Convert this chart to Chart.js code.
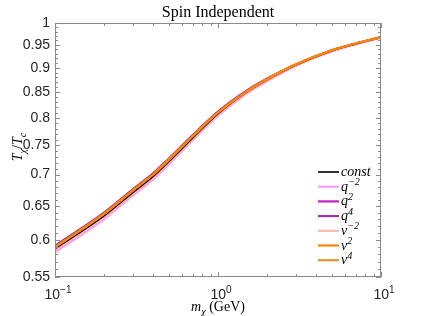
<!DOCTYPE html>
<html>
<head>
<meta charset="utf-8">
<script src="https://cdn.jsdelivr.net/npm/chart.js@4.4.1/dist/chart.umd.min.js"></script>
<style>
  html, body { margin: 0; padding: 0; background: #fff; }
  #wrap { width: 421px; height: 316px; }
</style>
</head>
<body>
<div id="wrap"><canvas id="c" width="421" height="316"></canvas></div>
<script>
// masses (GeV)
const mass = [0.1, 0.2, 0.3, 0.4, 0.5, 0.7, 1, 1.5, 2, 3, 5, 7, 10];

// T_chi / T_c for each velocity/momentum dependence
const tConst = [0.588, 0.635, 0.671, 0.697, 0.722, 0.763, 0.808, 0.850, 0.875, 0.906, 0.937, 0.952, 0.967];
const tQm2   = [0.583, 0.630, 0.666, 0.692, 0.717, 0.759, 0.804, 0.847, 0.872, 0.904, 0.935, 0.951, 0.966];
const tQ2    = [0.591, 0.639, 0.675, 0.701, 0.726, 0.767, 0.811, 0.852, 0.877, 0.907, 0.938, 0.953, 0.967];
const tQ4    = [0.592, 0.640, 0.676, 0.702, 0.727, 0.768, 0.812, 0.853, 0.877, 0.907, 0.938, 0.953, 0.967];
const tVm2   = [0.586, 0.633, 0.669, 0.695, 0.720, 0.761, 0.807, 0.849, 0.874, 0.905, 0.936, 0.952, 0.967];
const tV2    = [0.590, 0.638, 0.674, 0.700, 0.725, 0.766, 0.810, 0.851, 0.876, 0.907, 0.938, 0.953, 0.967];
const tV4    = [0.590, 0.638, 0.674, 0.700, 0.725, 0.766, 0.810, 0.851, 0.876, 0.907, 0.938, 0.953, 0.967];

// tick values / labels
const yTicks = [0.55, 0.6, 0.65, 0.7, 0.75, 0.8, 0.85, 0.9, 0.95, 1];
const yTickLabels = ["0.55", "0.6", "0.65", "0.7", "0.75", "0.8", "0.85", "0.9", "0.95", "1"];
const xTicks = [0.1, 1, 10];
const xTickExp = ["-1", "0", "1"];

const SERIF = '"Liberation Serif", "DejaVu Serif", serif';
const SANS = '"Liberation Sans", Arial, sans-serif';
const AXIS = "#8a8a8a";
const TEXT = "#262626";

// legend entries: base text + superscript
const series = [
  { base: "const", sup: "",   data: tConst, color: "#000000", width: 1.6, order: 2 },
  { base: "q",     sup: "−2", data: tQm2,   color: "#ff9cf5", width: 2.2, order: 6 },
  { base: "q",     sup: "2",  data: tQ2,    color: "#c81fc0", width: 2.2, order: 4 },
  { base: "q",     sup: "4",  data: tQ4,    color: "#9a35a8", width: 2.2, order: 3 },
  { base: "v",     sup: "−2", data: tVm2,   color: "#ffb9a6", width: 2.2, order: 5 },
  { base: "v",     sup: "2",  data: tV2,    color: "#ff8400", width: 2.2, order: 0 },
  { base: "v",     sup: "4",  data: tV4,    color: "#e0962a", width: 2.2, order: 1 },
];

// text pieces with sub/superscripts
function setFont(ctx, p, size) {
  const s = p.sub || p.sup ? size * 0.72 : size;
  ctx.font = (p.italic ? "italic " : "") + s + "px " + p.family;
}
function drawRich(ctx, parts, x, y, size, align) {
  let w = 0;
  for (const p of parts) { setFont(ctx, p, size); w += ctx.measureText(p.t).width; }
  let cx = align === "center" ? x - w / 2 : align === "right" ? x - w : x;
  ctx.textBaseline = "alphabetic";
  ctx.textAlign = "left";
  for (const p of parts) {
    setFont(ctx, p, size);
    const dy = p.sub ? size * 0.25 : p.sup ? -size * 0.4 : 0;
    ctx.fillText(p.t, cx, y + dy);
    cx += ctx.measureText(p.t).width;
  }
}

const decor = {
  id: "decor",
  afterDraw(chart) {
    const ctx = chart.ctx;
    const ca = chart.chartArea;
    const xs = chart.scales.x, ys = chart.scales.y;
    ctx.save();

    // box
    ctx.strokeStyle = AXIS;
    ctx.lineWidth = 1;
    ctx.strokeRect(ca.left + 0.5, ca.top + 0.5, ca.right - ca.left - 1, ca.bottom - ca.top - 1);

    // inward ticks, both sides
    ctx.beginPath();
    const xMinor = [];
    for (const d of [0.1, 1]) for (let k = 2; k <= 9; k++) xMinor.push(d * k);
    for (const v of xTicks) {
      const px = Math.round(xs.getPixelForValue(v)) + 0.5;
      ctx.moveTo(px, ca.bottom); ctx.lineTo(px, ca.bottom - 5);
      ctx.moveTo(px, ca.top); ctx.lineTo(px, ca.top + 5);
    }
    for (const v of xMinor) {
      const px = Math.round(xs.getPixelForValue(v)) + 0.5;
      ctx.moveTo(px, ca.bottom); ctx.lineTo(px, ca.bottom - 3);
      ctx.moveTo(px, ca.top); ctx.lineTo(px, ca.top + 3);
    }
    for (const v of yTicks) {
      const py = Math.round(ys.getPixelForValue(v)) + 0.5;
      ctx.moveTo(ca.left, py); ctx.lineTo(ca.left + 5, py);
      ctx.moveTo(ca.right, py); ctx.lineTo(ca.right - 5, py);
    }
    for (let i = 56; i < 100; i++) {
      if (i % 5 === 0) continue;
      const py = Math.round(ys.getPixelForValue(i / 100)) + 0.5;
      ctx.moveTo(ca.left, py); ctx.lineTo(ca.left + 3, py);
      ctx.moveTo(ca.right, py); ctx.lineTo(ca.right - 3, py);
    }
    ctx.stroke();

    ctx.fillStyle = TEXT;
    // x tick labels 10^n
    xTicks.forEach((v, i) => {
      const px = xs.getPixelForValue(v);
      drawRich(ctx, [
        { t: "10", family: SANS },
        { t: xTickExp[i].replace("-", "−"), sup: true, family: SANS },
      ], px + 3, ca.bottom + 22, 14, "center");
    });

    // title
    ctx.fillStyle = "#000";
    drawRich(ctx, [{ t: "Spin Independent", family: SERIF }], (ca.left + ca.right) / 2, 17, 16, "center");

    // x title
    drawRich(ctx, [
      { t: "m", italic: true, family: SERIF },
      { t: "χ", italic: true, sub: true, family: SERIF },
      { t: " (GeV)", family: SERIF },
    ], (ca.left + ca.right) / 2, ca.bottom + 34, 14, "center");

    // y title
    ctx.save();
    ctx.translate(22, (ca.top + ca.bottom) / 2 - 3);
    ctx.rotate(-Math.PI / 2);
    drawRich(ctx, [
      { t: "T", italic: true, family: SERIF },
      { t: "χ", italic: true, sub: true, family: SERIF },
      { t: "/", family: SERIF },
      { t: "T", italic: true, family: SERIF },
      { t: "c", italic: true, sub: true, family: SERIF },
    ], 0, 0, 14, "center");
    ctx.restore();

    // legend
    const lx = ca.right - 63, ly = ca.bottom - 105, step = 14.7;
    series.forEach((s, i) => {
      const y = ly + i * step;
      ctx.strokeStyle = s.color;
      ctx.lineWidth = s.width;
      ctx.beginPath();
      ctx.moveTo(lx, y); ctx.lineTo(lx + 21, y);
      ctx.stroke();
      ctx.fillStyle = "#000";
      const parts = [{ t: s.base, italic: true, family: SERIF }];
      if (s.sup) parts.push({ t: s.sup, italic: true, sup: true, family: SERIF });
      drawRich(ctx, parts, lx + 23, y + 4, 14, "left");
    });

    ctx.restore();
  },
};

new Chart(document.getElementById("c"), {
  type: "line",
  data: {
    datasets: series.map((s) => ({
      label: s.base + s.sup,
      data: mass.map((m, i) => ({ x: m, y: s.data[i] })),
      borderColor: s.color,
      borderWidth: s.width,
      pointRadius: 0,
      cubicInterpolationMode: "monotone",
      fill: false,
      order: s.order,
    })),
  },
  options: {
    responsive: false,
    animation: false,
    devicePixelRatio: 1,
    layout: { padding: { top: 23, right: 40, left: 0, bottom: 0 } },
    plugins: { legend: { display: false }, tooltip: { enabled: false }, title: { display: false } },
    scales: {
      x: {
        type: "logarithmic",
        min: 0.1,
        max: 10,
        grid: { display: false, drawTicks: false },
        border: { display: false },
        ticks: { display: false },
        afterFit(scale) { scale.height = 39; },
      },
      y: {
        type: "logarithmic",
        min: 0.55,
        max: 1,
        grid: { display: false, drawTicks: false },
        border: { display: false },
        afterBuildTicks(scale) { scale.ticks = yTicks.map((v) => ({ value: v })); },
        ticks: {
          padding: 5,
          color: TEXT,
          font: { family: SANS, size: 14 },
          callback: (v) => yTickLabels[yTicks.indexOf(v)] ?? "",
        },
        afterFit(scale) { scale.width = 55; },
      },
    },
  },
  plugins: [decor],
});
</script>
</body>
</html>
